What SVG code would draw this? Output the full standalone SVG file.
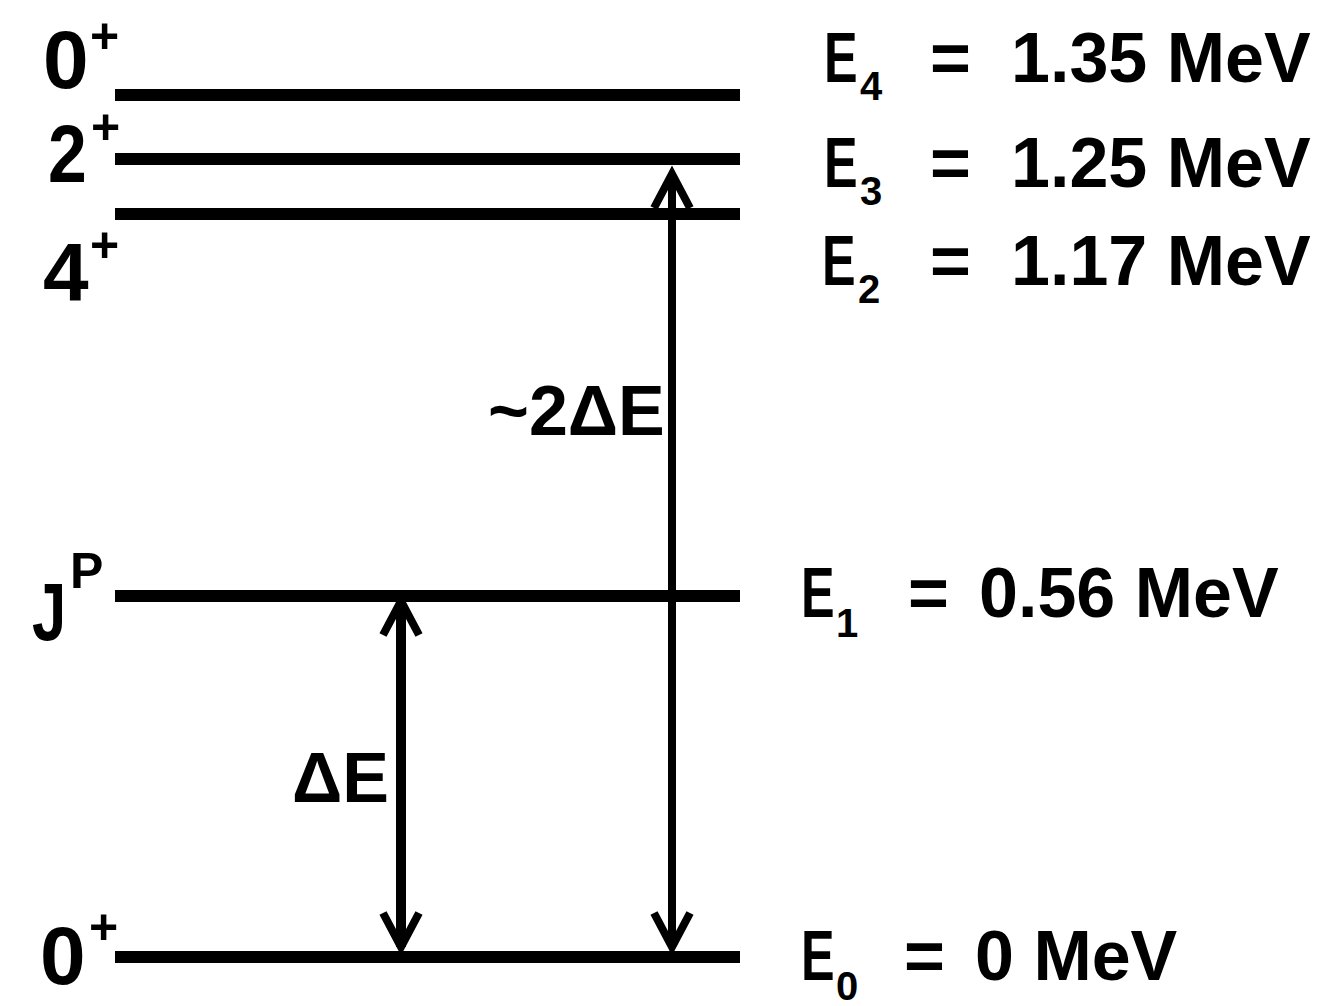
<svg xmlns="http://www.w3.org/2000/svg" width="1337" height="1006" viewBox="0 0 1337 1006">
<style>
.lvl{stroke:#000;stroke-width:12;fill:none}
.arr{stroke:#000;fill:none}
text{font-family:"Liberation Sans",Arial,sans-serif;font-weight:bold;fill:#000}
.big{font-size:82px}
.sup{font-size:50px}
.val{font-size:70px}
.sub{font-size:40px}
</style>
<defs>
<marker id="head" viewBox="-40 -25 50 50" refX="0" refY="0" markerWidth="50" markerHeight="50" markerUnits="userSpaceOnUse" orient="auto-start-reverse">
<path d="M-34,-18 L0,0 L-34,18" fill="none" stroke="#000" stroke-width="8"/>
</marker>
</defs>
<rect width="1337" height="1006" fill="#fff"/>
<g id="level-E4">
<line class="lvl" x1="115" y1="95" x2="740" y2="95"/>
<text class="big" x="43" y="88">0</text><text class="sup" x="90" y="53">+</text>
<text class="val" transform="translate(824,82) scale(0.72,1)">E</text><text class="sub" x="860" y="100">4</text>
<text class="val" x="930" y="82">=</text><text class="val" x="1011" y="82">1.35 MeV</text>
</g>
<g id="level-E3">
<line class="lvl" x1="115" y1="159" x2="740" y2="159"/>
<text class="big" transform="translate(48,182) scale(0.85,1)">2</text><text class="sup" x="91" y="144">+</text>
<text class="val" transform="translate(824,187) scale(0.72,1)">E</text><text class="sub" x="860" y="205">3</text>
<text class="val" x="930" y="187">=</text><text class="val" x="1011" y="187">1.25 MeV</text>
</g>
<g id="level-E2">
<line class="lvl" x1="115" y1="214" x2="740" y2="214"/>
<text class="big" x="43" y="300">4</text><text class="sup" x="90" y="262">+</text>
<text class="val" transform="translate(822,285) scale(0.72,1)">E</text><text class="sub" x="858" y="303">2</text>
<text class="val" x="930" y="285">=</text><text class="val" x="1011" y="285">1.17 MeV</text>
</g>
<g id="level-E1">
<line class="lvl" x1="115" y1="596" x2="740" y2="596"/>
<text class="big" transform="translate(32,640) scale(0.75,1)">J</text><text class="sup" x="70" y="588">P</text>
<text class="val" transform="translate(801,617) scale(0.72,1)">E</text><text class="sub" x="836" y="637">1</text>
<text class="val" x="908" y="617">=</text><text class="val" x="979" y="617">0.56 MeV</text>
</g>
<g id="level-E0">
<line class="lvl" x1="115" y1="957" x2="740" y2="957"/>
<text class="big" x="40" y="984">0</text><text class="sup" x="89" y="944">+</text>
<text class="val" transform="translate(801,980) scale(0.72,1)">E</text><text class="sub" x="836" y="1000">0</text>
<text class="val" x="904" y="980">=</text><text class="val" x="975" y="980">0 MeV</text>
</g>
<g id="connectors">
<line class="arr" x1="401" y1="601" x2="401" y2="947" stroke-width="10" marker-start="url(#head)" marker-end="url(#head)"/>
<line class="arr" x1="672" y1="174" x2="672" y2="947" stroke-width="8" marker-start="url(#head)" marker-end="url(#head)"/>
<text class="val" x="292" y="802">ΔE</text>
<text class="val" x="488" y="435">~2ΔE</text>
</g>
</svg>
